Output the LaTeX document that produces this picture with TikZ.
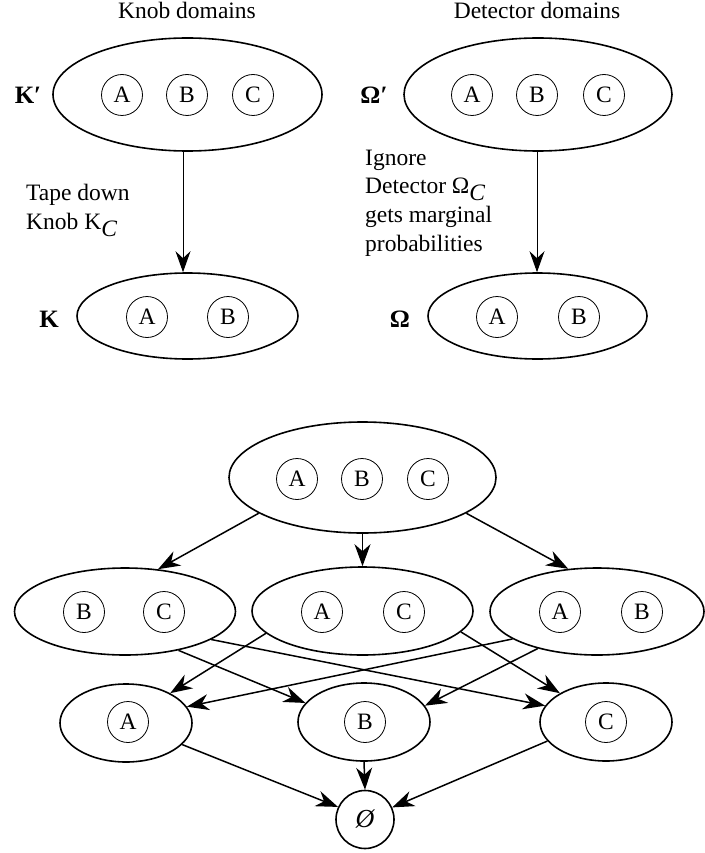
\documentclass[tikz,border=0pt]{standalone}
\usepackage{fontspec}
\setmainfont{Liberation Serif}
\usetikzlibrary{shapes.geometric,arrows.meta}
\newcommand\lowC{\raisebox{-7pt}{\itshape C}}
\begin{document}
\begin{tikzpicture}[x=1pt,y=-1pt,
  every node/.style={font=\fontsize{23.5}{28.7}\selectfont},
  dom/.style={draw,ellipse,line width=1.6pt,inner sep=0pt},
  var/.style={draw,circle,line width=0.8pt,minimum size=41pt,inner sep=0pt},
  lab/.style={font=\fontsize{25}{25}\selectfont\bfseries},
  txt/.style={align=left,anchor=base west,inner sep=0pt},
  thinarr/.style={line width=0.9pt,-{Stealth[length=21pt,width=15pt,inset=7pt]}},
  arr/.style={line width=1.5pt,-{Stealth[length=22pt,width=16pt,inset=7pt]}}]
\useasboundingbox (0,0) rectangle (704,853);

% ---- titles
\node[anchor=base,inner sep=0pt] (t1) at (187,18.5) {Knob domains};
\node[anchor=base,inner sep=0pt] (t2) at (537,18.5) {Detector domains};

% ---- knob domains
\node[dom,minimum width=269pt,minimum height=113pt] (Kp) at (187.5,94.5) {};
\node[var] (KpA) at (122,95) {A};
\node[var] (KpB) at (187,95) {B};
\node[var] (KpC) at (253,95) {C};
\node[lab] (KpL) at (28,95) {K′};
\node[dom,minimum width=221pt,minimum height=86pt] (K) at (187.5,316) {};
\node[var] (KA) at (147,317) {A};
\node[var] (KB) at (228,317) {B};
\node[lab] (KL) at (49,319) {K};
\draw[thinarr] ([xshift=-4.5pt]Kp.south) -- ([xshift=-4.5pt]K.north);
\node[txt] (tape) at (26,229.4) {Tape down\\Knob K\lowC};

% ---- detector domains
\node[dom,minimum width=268pt,minimum height=113pt] (Op) at (538,94.5) {};
\node[var] (OpA) at (472,95) {A};
\node[var] (OpB) at (537,95) {B};
\node[var] (OpC) at (604,95) {C};
\node[lab] (OpL) at (374,95) {Ω′};
\node[dom,minimum width=219pt,minimum height=86pt] (O) at (537.5,316) {};
\node[var] (OA) at (497,317) {A};
\node[var] (OB) at (579,317) {B};
\node[lab] (OL) at (400,319) {Ω};
\draw[thinarr] ([xshift=-1pt]Op.south) -- ([xshift=-0.5pt]O.north);
\node[txt] (ign) at (365,251.1) {Ignore\\Detector Ω\lowC\\gets marginal\\probabilities};

% ---- lattice
\node[dom,minimum width=267pt,minimum height=111pt] (T) at (362.5,477.5) {};
\node[var] (TA) at (297,479) {A};
\node[var] (TB) at (362,479) {B};
\node[var] (TC) at (428,479) {C};

\node[dom,minimum width=221pt,minimum height=87pt] (BC) at (125,611.5) {};
\node[var] (BCB) at (84,612) {B};
\node[var] (BCC) at (164,612) {C};
\node[dom,minimum width=221pt,minimum height=88pt] (AC) at (362.5,611) {};
\node[var] (ACA) at (322,612) {A};
\node[var] (ACC) at (404,612) {C};
\node[dom,minimum width=214pt,minimum height=87pt] (AB) at (597,611.5) {};
\node[var] (ABA) at (560,612) {A};
\node[var] (ABB) at (642,612) {B};

\node[dom,minimum width=132pt,minimum height=78pt] (Ab) at (126,723) {};
\node[var] (AbA) at (128,722) {A};
\node[dom,minimum width=132pt,minimum height=78pt] (Bb) at (364,722) {};
\node[var] (BbB) at (365,722) {B};
\node[dom,minimum width=132pt,minimum height=78pt] (Cb) at (606,722) {};
\node[var] (CbC) at (606,722) {C};

\node[draw,circle,line width=1.6pt,minimum size=58pt,inner sep=0pt,font=\fontsize{26}{26}\selectfont\itshape] (E) at (365,819.5) {Ø};

\draw[arr] (T.199.3) -- (BC.52.4);
\draw[arr] (T.270) -- (AC.90);
\draw[arr] (T.341.4) -- (AB.124.9);

\draw[arr] (BC.324.2) -- (Bb.162.6);
\draw[arr] (BC.342.2) -- (Cb.165.1);
\draw[arr] (AC.193.6) -- (Ab.34.9);
\draw[arr] (AC.348.1) -- (Cb.148.3);
\draw[arr] (AB.198.2) -- (Ab.15.3);
\draw[arr] (AB.212.2) -- (Bb.15.5);

\draw[arr] (Ab.339.2) -- (E.155.9);
\draw[arr] (Bb.270) -- (E.90);
\draw[arr] (Cb.198.7) -- (E.24.9);
\end{tikzpicture}
\end{document}
